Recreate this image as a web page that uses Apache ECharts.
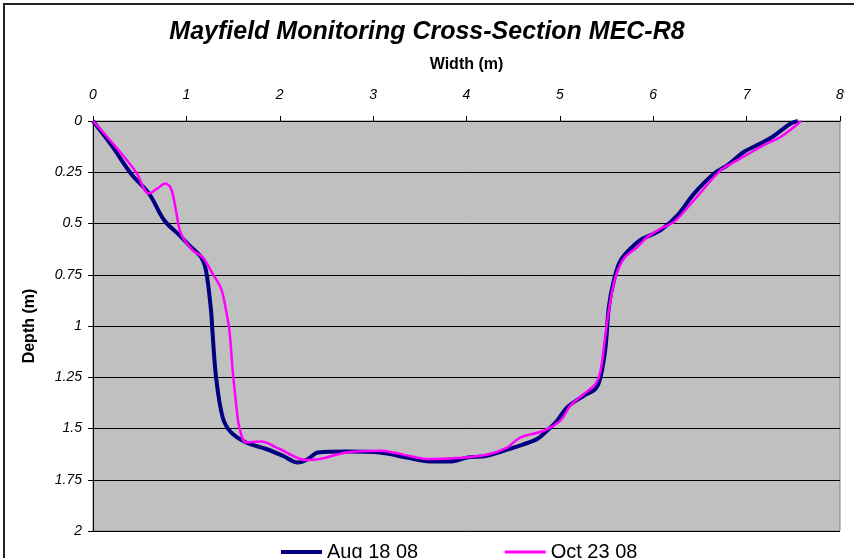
<!DOCTYPE html>
<html>
<head>
<meta charset="utf-8">
<script src="https://cdn.jsdelivr.net/npm/echarts@6/dist/echarts.min.js"></script>
<style>
    html, body { margin: 0; padding: 0; background: #fff; }
    #chart { width: 854px; height: 558px; }
</style>
</head>
<body>
<div id="chart"></div>
<script>
    // cross-section survey, width (m) vs depth (m)
    const widthAug = [0, 0.21, 0.405, 0.60, 0.763, 0.924, 1.03, 1.157, 1.21, 1.264, 1.281, 1.318, 1.389, 1.479, 1.64, 1.855, 2.033, 2.194, 2.302, 2.409, 2.714, 3.072, 3.359, 3.609, 3.824, 4.003, 4.218, 4.504, 4.755, 4.862, 4.97, 5.077, 5.256, 5.381, 5.435, 5.489, 5.524, 5.578, 5.65, 5.793, 5.883, 5.972, 6.079, 6.259, 6.437, 6.652, 6.796, 6.974, 7.153, 7.279, 7.476, 7.548];
    const depthAug = [0, 0.126, 0.256, 0.354, 0.484, 0.557, 0.606, 0.664, 0.729, 0.924, 1.038, 1.25, 1.446, 1.519, 1.568, 1.6, 1.633, 1.666, 1.649, 1.617, 1.612, 1.617, 1.642, 1.661, 1.661, 1.642, 1.633, 1.593, 1.552, 1.511, 1.462, 1.397, 1.34, 1.307, 1.25, 1.104, 0.908, 0.778, 0.68, 0.606, 0.574, 0.557, 0.533, 0.46, 0.354, 0.256, 0.215, 0.15, 0.109, 0.077, 0.011, 0];

    const widthOct = [0, 0.244, 0.459, 0.60, 0.69, 0.773, 0.835, 0.888, 0.942, 1.067, 1.174, 1.281, 1.372, 1.425, 1.461, 1.496, 1.533, 1.568, 1.64, 1.801, 1.998, 2.285, 2.427, 2.714, 3.072, 3.215, 3.43, 3.609, 3.896, 4.218, 4.433, 4.576, 4.826, 5.005, 5.113, 5.256, 5.381, 5.435, 5.489, 5.542, 5.596, 5.686, 5.829, 5.937, 6.079, 6.222, 6.437, 6.724, 6.903, 7.189, 7.368, 7.583];
    const depthOct = [0, 0.126, 0.248, 0.354, 0.329, 0.305, 0.329, 0.435, 0.549, 0.631, 0.664, 0.745, 0.818, 0.924, 1.022, 1.218, 1.381, 1.495, 1.568, 1.563, 1.6, 1.654, 1.649, 1.617, 1.609, 1.617, 1.638, 1.649, 1.644, 1.628, 1.593, 1.544, 1.511, 1.462, 1.389, 1.332, 1.283, 1.218, 1.038, 0.875, 0.761, 0.671, 0.615, 0.566, 0.525, 0.492, 0.386, 0.24, 0.191, 0.117, 0.077, 0];

    const seriesNames = ['Aug 18 08', 'Oct 23 08'];

    function pairs (xs, ys) {
        return xs.map((x, i) => [x, ys[i]]);
    }

    const font = 'Liberation Sans, Arial, sans-serif';

    const chart = echarts.init(document.getElementById('chart'), null, { renderer: 'canvas' });
    chart.setOption({
        animation: false,
        backgroundColor: '#fff',
        textStyle: { fontFamily: font, color: '#000' },
        title: {
            text: 'Mayfield Monitoring Cross-Section MEC-R8',
            left: 'center',
            top: 15,
            textStyle: { fontFamily: font, fontSize: 25, fontWeight: 'bold', fontStyle: 'italic', color: '#000' }
        },
        graphic: [{
            type: 'rect',
            shape: { x: 4, y: 4, width: 900, height: 600 },
            style: { fill: 'none', stroke: '#222', lineWidth: 2 },
            silent: true
        }],
        grid: {
            left: 93,
            top: 121,
            right: 14,
            bottom: 27,
            show: true,
            backgroundColor: '#c0c0c0',
            borderColor: '#808080',
            borderWidth: 1
        },
        legend: {
            data: [
                { name: seriesNames[0], lineStyle: { width: 4 } },
                { name: seriesNames[1], lineStyle: { width: 3 } }
            ],
            left: 274,
            top: 537,
            itemWidth: 41,
            itemHeight: 16,
            itemGap: 85,
            itemStyle: { opacity: 0 },
            textStyle: { fontFamily: font, fontSize: 20, color: '#000' }
        },
        xAxis: {
            type: 'value',
            position: 'top',
            min: 0,
            max: 8,
            interval: 1,
            name: 'Width (m)',
            nameLocation: 'middle',
            nameGap: 48,
            nameTextStyle: { fontFamily: font, fontSize: 16, fontWeight: 'bold', color: '#000' },
            axisLine: { show: true, lineStyle: { color: '#000', width: 1 } },
            axisTick: { show: true, length: 5, lineStyle: { color: '#000' } },
            axisLabel: { margin: 19, fontFamily: font, fontSize: 14, fontStyle: 'italic', color: '#000' },
            splitLine: { show: false }
        },
        yAxis: {
            type: 'value',
            inverse: true,
            min: 0,
            max: 2,
            interval: 0.25,
            name: 'Depth (m)',
            nameLocation: 'middle',
            nameGap: 55,
            nameRotate: 90,
            nameTextStyle: { fontFamily: font, fontSize: 16, fontWeight: 'bold', color: '#000' },
            axisLine: { show: true, lineStyle: { color: '#000', width: 1 } },
            axisTick: { show: true, length: 5, lineStyle: { color: '#000' } },
            axisLabel: { margin: 11, fontFamily: font, fontSize: 14, fontStyle: 'italic', color: '#000' },
            splitLine: { show: true, lineStyle: { color: '#000', width: 1 } }
        },
        series: [
            {
                name: seriesNames[0],
                type: 'line',
                data: pairs(widthAug, depthAug),
                smooth: 0.35,
                symbol: 'none',
                lineStyle: { color: '#000080', width: 4 },
                itemStyle: { color: '#000080' },
                z: 2
            },
            {
                name: seriesNames[1],
                type: 'line',
                data: pairs(widthOct, depthOct),
                smooth: 0.35,
                symbol: 'none',
                lineStyle: { color: '#ff00ff', width: 2.5 },
                itemStyle: { color: '#ff00ff' },
                z: 3
            }
        ]
    });
</script>
</body>
</html>
